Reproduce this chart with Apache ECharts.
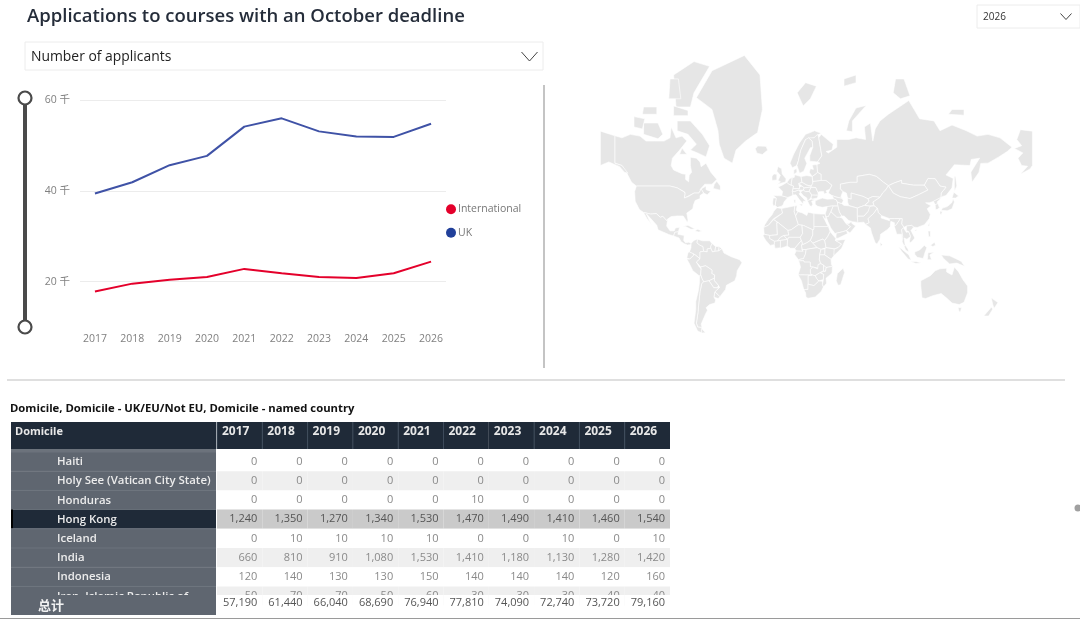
<!DOCTYPE html>
<html>
<head>
<meta charset="utf-8">
<style>
html, body { margin: 0; padding: 0; background: #fff; }
#main { width: 1080px; height: 620px; }
</style>
<script src="https://cdn.jsdelivr.net/npm/echarts@6/dist/echarts.min.js"></script>
</head>
<body>
<div id="main"></div>
<script>
var years = ['2017', '2018', '2019', '2020', '2021', '2022', '2023', '2024', '2025', '2026'];
var intlValues = [17800, 19550, 20400, 21000, 22800, 21850, 21000, 20800, 21850, 24400];
var ukValues = [39390, 41890, 45640, 47690, 54140, 55960, 53090, 51940, 51870, 54760];
var yTicks = [20000, 40000, 60000];

var rowNames = ['Haiti', 'Holy See (Vatican City State)', 'Honduras', 'Hong Kong', 'Iceland', 'India', 'Indonesia', 'Iran, Islamic Republic of'];
var haiti = [0, 0, 0, 0, 0, 0, 0, 0, 0, 0];
var holySee = [0, 0, 0, 0, 0, 0, 0, 0, 0, 0];
var honduras = [0, 0, 0, 0, 0, 10, 0, 0, 0, 0];
var hongKong = [1240, 1350, 1270, 1340, 1530, 1470, 1490, 1410, 1460, 1540];
var iceland = [0, 10, 10, 10, 10, 0, 0, 10, 0, 10];
var india = [660, 810, 910, 1080, 1530, 1410, 1180, 1130, 1280, 1420];
var indonesia = [120, 140, 130, 130, 150, 140, 140, 140, 120, 160];
var iran = [50, 70, 70, 50, 60, 30, 30, 30, 40, 40];
var totals = [57190, 61440, 66040, 68690, 76940, 77810, 74090, 72740, 73720, 79160];
var rowValues = [haiti, holySee, honduras, hongKong, iceland, india, indonesia, iran];
var selectedRow = 3;

// base map outlines, lon/lat. Map is cut at -153 so west Alaska sits past 180 on the right
var land = {
  Canada: [[-141,69.6],[-135,69],[-128,70],[-120,69.5],[-115,68],[-108,68],[-100,68],[-95,69],[-94,72],[-90,69],[-85,69.5],[-81,68],[-87,65],[-93,62],[-94,59],[-92,57],[-85,55.3],[-82,55],[-82,52.5],[-79.5,51.3],[-79,54.5],[-77,56],[-78,59],[-78,62.4],[-73,62],[-70,60.5],[-69,58.5],[-65,60],[-61,56],[-56,52.5],[-60,50],[-66,50],[-70,47],[-65,49],[-65,47],[-61,46],[-64,44],[-67,45],[-69,47.3],[-71,45],[-75,45],[-79,43.5],[-83,42],[-82.5,45.5],[-89,48],[-95,49],[-123,49],[-127,51],[-130,54.5],[-135,59],[-141,60]],
  USA: [[-123,49],[-95,49],[-89,48],[-84,46],[-82.5,45],[-83,42],[-79,43.2],[-75,45],[-71,45],[-69,47.3],[-67,45],[-70,43.5],[-70,41.7],[-74,40.5],[-75.5,37.5],[-76,35],[-81,32],[-80,27],[-80.5,25.2],[-82.5,28],[-84,30],[-89,30],[-94,29.5],[-97.3,27.5],[-97.2,26],[-101,29.7],[-103,29],[-106.5,31.7],[-111,31.3],[-117,32.5],[-120.5,34.5],[-124,40],[-124.5,46]],
  AlaskaEast: [[-141,69.6],[-141,60],[-135,59],[-130,55.5],[-133,56],[-137,58.5],[-146,60.5],[-153,59],[-153,70.9]],
  AlaskaWest: [[207,70.9],[197,71.3],[194,68.5],[198,66.5],[192,65.6],[199,64],[195,62],[198,59],[203,58.7],[197,55],[205,57.5],[207,59]],
  Baffin: [[-65,62.5],[-72,64],[-78,65],[-73,67],[-80,70],[-89,71],[-89,73.5],[-78,73.5],[-68,70],[-62,66.5]],
  Victoria: [[-117,70],[-105,68.7],[-101,70],[-105,73],[-117,73]],
  Ellesmere: [[-90,76.5],[-78,76.5],[-75,79],[-62,82.5],[-75,83],[-92,81.5]],
  Banks: [[-125,72],[-118,71.5],[-116,74],[-125,74.5]],
  Devon: [[-92,74.7],[-80,74.7],[-80,75.8],[-92,76.7]],
  Melville: [[-118,75],[-106,75],[-106,76.5],[-117,76.5]],
  Axel: [[-96,78],[-86,78],[-88,81],[-95,81]],
  Southampton: [[-87,63.5],[-81,63.5],[-85,65.7]],
  Newfoundland: [[-59,47.7],[-53,46.7],[-53,49],[-56,51.5],[-58,50]],
  Cuba: [[-85,22],[-80,23],[-74.2,20.2],[-77.5,19.9],[-82,22]],
  Hispaniola: [[-74.4,18.5],[-72,19.9],[-68.4,18.6],[-71,17.8]],
  Greenland: [[-73,78.2],[-60,82],[-33,83.6],[-20,81.5],[-18,76],[-22,70.5],[-32,68],[-40,65],[-43,60],[-50,62],[-54,67],[-55,71],[-60,76]],
  Iceland: [[-24,65.5],[-22,66.4],[-15,66.3],[-13.6,65],[-18,63.4],[-22.5,63.9]],
  Mexico: [[-117,32.5],[-111,31.3],[-106.5,31.7],[-103,29],[-101,29.7],[-97.2,26],[-97.8,22.5],[-95,18.7],[-91.5,18.6],[-90.5,21],[-87,21.5],[-88,18],[-91,17.5],[-92,14.6],[-96,15.8],[-105,19.5],[-106,23],[-112,29],[-114.7,31.5],[-112,26],[-110,23],[-114,27.8]],
  CentralAmerica: [[-92,14.6],[-91,17.5],[-88,18],[-88.5,16],[-83.2,15],[-83.6,11],[-82,9],[-79.5,9.5],[-77.4,8.7],[-78,7.5],[-80.5,7.3],[-83,8.2],[-85.8,10],[-87.5,13]],
  Colombia: [[-77.4,8.7],[-75,11],[-72,12.2],[-72.5,9],[-70,7],[-67.5,6],[-67,2],[-70,1.5],[-70,-4.2],[-74,-1],[-78.8,1.4],[-77.5,5]],
  Venezuela: [[-72,12],[-68,10.7],[-62,10.7],[-60,8.5],[-61,6],[-61,4.5],[-64,4],[-64,1.5],[-67,2],[-67.5,6],[-70,7],[-72.5,9]],
  Guyana: [[-60,8.5],[-57,6],[-57.5,2],[-59.7,1.5],[-61,4.5],[-61,6]],
  Suriname: [[-57,6],[-54,6],[-54.5,2.3],[-57.5,2]],
  FrenchGuiana: [[-54,6],[-51.7,4.2],[-54.5,2.3]],
  Ecuador: [[-80,1],[-78.8,1.4],[-75.5,0],[-75.5,-1.5],[-78.5,-4.5],[-81,-3.5]],
  Peru: [[-81,-4.5],[-78.5,-4.5],[-75.5,-1.5],[-75.2,-0.2],[-74,-1],[-70,-4.2],[-73,-7],[-70.6,-11],[-69,-12.5],[-69.5,-17.3],[-70.4,-18.3],[-76,-14],[-79,-8]],
  Brazil: [[-70,-4.2],[-70,1.5],[-67,2],[-64,1.5],[-64,4],[-61,4.5],[-59.7,1.5],[-57.5,2],[-54.5,2.3],[-51.7,4.2],[-50,0.5],[-44,-2.5],[-37,-5],[-35,-7.5],[-39,-14],[-39.5,-18],[-41,-22],[-48,-25.5],[-48.7,-28.5],[-53.4,-33.7],[-57.6,-30.2],[-53.7,-27],[-54.6,-25.6],[-58,-22],[-57.8,-17.5],[-60.2,-16.3],[-60,-13.5],[-65.3,-10],[-69.5,-11],[-73,-7]],
  Bolivia: [[-69.5,-11],[-65.3,-10],[-60,-13.5],[-60.2,-16.3],[-57.8,-17.5],[-58,-20],[-62.5,-22],[-67,-22.8],[-68.5,-20],[-69.5,-17.3],[-69,-12.5]],
  Paraguay: [[-58,-20],[-58,-22],[-54.6,-25.6],[-55.7,-27.4],[-58.6,-27.2],[-62.5,-22]],
  Uruguay: [[-57.6,-30.2],[-53.4,-33.7],[-54.9,-35],[-58.4,-34]],
  Argentina: [[-67,-22.8],[-62.5,-22],[-58.6,-27.2],[-55.7,-27.4],[-53.7,-27],[-57.6,-30.2],[-58.4,-34],[-57,-36],[-57.6,-38],[-62,-39],[-65,-41],[-63.7,-42.5],[-65.5,-45],[-69,-50.5],[-68.4,-52.3],[-72,-52],[-73,-50],[-71.7,-44],[-71,-38],[-70,-30],[-68.5,-24]],
  Chile: [[-70.4,-18.3],[-69.5,-17.3],[-68.5,-20],[-67,-22.8],[-68.5,-24],[-70,-30],[-71,-38],[-71.7,-44],[-73,-50],[-72,-52],[-68.4,-52.3],[-68.6,-54.9],[-72,-54],[-75,-50],[-73.5,-42],[-73.5,-37],[-71.5,-30],[-70.5,-24]],
  Fuego: [[-68.6,-52.8],[-65.5,-54.8],[-68.6,-55]],
  UK: [[-5.5,50],[1.3,51.2],[1.7,52.8],[-1.5,55.2],[-2,57.6],[-5,58.6],[-6,56.5],[-3,54.5],[-5,52],[-3,51.3]],
  Ireland: [[-10,52],[-6,52.2],[-6,55],[-8.5,55.2],[-10,54]],
  Spain: [[-9,43.5],[-1.8,43.4],[3.2,42.4],[0,39.5],[-0.5,38],[-2,36.8],[-5.5,36],[-7.4,37.2],[-7,39.5],[-6.5,42]],
  Portugal: [[-9,42],[-6.5,42],[-7,39.5],[-7.4,37.2],[-9,37],[-9.5,38.7]],
  France: [[-1.8,43.4],[3.2,42.4],[6,43.2],[7.5,43.8],[7,46],[8,49],[4,50],[2.5,51],[-1.5,49.5],[-4.8,48.5],[-1.2,46]],
  Benelux: [[2.5,51],[4,50],[6,49.5],[6.2,51],[7,53.4],[4.8,53]],
  Germany: [[6.2,51],[6,49.5],[8,49],[7.6,47.6],[13,47.5],[13,48.5],[12.2,50.3],[15,51],[14.2,53.9],[9,54.8],[8.5,53.5],[7,53.4]],
  Alps: [[7,46],[9,45.9],[12,46.7],[16,46.7],[17,48],[15,49],[13,48.5],[13,47.5],[7.6,47.6]],
  Italy: [[7.5,43.8],[10,44],[12.3,41.5],[16,38],[16,40],[18.4,40],[16,41.8],[12.5,44.5],[13.7,45.6],[12,46.7],[9,45.9],[7,46]],
  Sicily: [[12.5,38],[15.5,38.2],[15,36.7]],
  Sardinia: [[8.2,41],[9.7,41],[9.6,39],[8.5,39]],
  Poland: [[14.2,53.9],[15,51],[19,49.5],[22.7,49],[24,50.5],[23.5,54],[19,54.4]],
  Czechia: [[12.2,50.3],[15,49],[17,48],[22.5,48.4],[22.7,49],[19,49.5],[15,51]],
  Hungary: [[16,46.7],[17,48],[22.5,48.4],[21,46],[18,45.8]],
  Romania: [[21,46],[22.5,48.4],[26.5,48.2],[28.2,45.5],[28.6,43.7],[23,43.8],[22.5,44.5]],
  Bulgaria: [[23,43.8],[28.6,43.7],[27.7,42],[23,41.3],[22.5,42.5]],
  Balkans: [[13.7,45.6],[16,46.7],[18,45.8],[21,46],[22.5,44.5],[23,43.8],[22.5,42.5],[21,40.8],[19.4,40.3],[19,42],[16,43.5]],
  Greece: [[19.4,40.3],[21,40.8],[23,41.3],[26,41],[23,40],[24,38],[22.8,36.5],[21.5,37],[20,39.5]],
  Ukraine: [[24,50.5],[22.7,49],[22.5,48.4],[26.5,48.2],[28.2,45.5],[30.5,46],[33,46],[33.5,44.5],[36,45.2],[35,46.3],[38.2,47.2],[40,49.5],[35,52],[31,52],[24,51.5]],
  Belarus: [[24,51.5],[31,52],[31,55],[28,56],[26,55],[23.5,54]],
  Baltics: [[21,56],[23.5,54],[26,55],[28,56],[27.5,59.4],[23.5,59.2],[24.5,57.3],[22,57.6]],
  Norway: [[5,60],[7,58],[10.5,59],[12,61],[14,65],[18,68.5],[25,69],[29,70],[31,70.3],[25.5,71],[18,70],[13,67.5],[8,63.5]],
  Sweden: [[10.8,59],[13,55.5],[16.5,56.5],[19,59.8],[17.3,62],[22,65.8],[24,66],[23.5,68],[20.5,69],[18,68.5],[14,65],[12,61]],
  Finland: [[24,66],[21.5,63],[21.5,60.8],[28,60.5],[31.5,62.9],[29,69],[28,70],[25,69],[20.5,69],[23.5,68]],
  Denmark: [[8.2,55],[9,54.8],[10.8,56],[10.5,57.7],[8.2,57]],
  Svalbard: [[11,79],[16,76.7],[22,78],[27,80],[18,80.5]],
  FranzJosef: [[50,80],[60,80.5],[60,81.5],[50,81]],
  NovayaZemlya: [[52,71],[57,70.7],[57,73.5],[68.5,76.8],[60,76.3],[54,73.5]],
  Severnaya: [[91,79],[97,78],[105,78.5],[100,81],[93,81]],
  NewSiberia: [[137,75],[150,74.8],[150,76],[140,76]],
  Sakhalin: [[142,46],[144,49],[143,54],[142,54],[142,50]],
  Honshu: [[131,34],[136,33.6],[140,35],[142,39.5],[141,41.5],[139.8,39],[136,36.5],[132,35.5]],
  Hokkaido: [[140,42],[141.5,45.5],[145.5,43.3],[143,42]],
  Kyushu: [[130,33.5],[132,33],[131,31],[130,31.3]],
  Russia: [[31,70],[41,67],[40,65],[35,64.5],[37,64],[44,66],[44,68.5],[54,68.5],[60,69],[68,68.5],[67,72],[72,73],[74,68],[76,71.5],[80,73.5],[87,75],[104,77.7],[113,74],[125,73.5],[130,71],[140,72.5],[152,71],[161,69.5],[170,70],[180,69],[190,66],[186,64.5],[179,62.5],[170,60],[164,59.9],[162.5,56],[156.7,51],[155.7,56],[163,62],[156,61.5],[155,59],[142,59.3],[135,54.7],[141,53],[140,48],[135,43.5],[132,43],[130.7,42.3],[131,45],[135,48.4],[130,49],[126,52.8],[120,53],[117,49.5],[108,49.5],[98,50.5],[98,52],[92,50.7],[87,49.2],[83,51],[77,54],[71,55],[61,54],[61,51],[55,51],[47,50],[47,47.5],[49,46],[47.5,43],[48.5,41.8],[44,42.5],[40,43.5],[37,45],[38.2,47.2],[40,49.5],[35,52],[31,52],[31,55],[28,56],[27.5,59.4],[30,60],[28,60.5],[31.5,62.9],[29,69]],
  Kazakhstan: [[47,47.5],[47,50],[55,51],[61,51],[61,54],[71,55],[77,54],[83,51],[87,49.2],[85,47],[82.5,45.3],[80,42.5],[74,43],[70,41.5],[66,43],[61,44],[56,45],[56,41.3],[53,42],[52,45],[49,46]],
  Mongolia: [[87,49.2],[92,50.7],[98,52],[98,50.5],[108,49.5],[117,49.5],[120,46.8],[112,44],[105,41.7],[97,42.8],[91,45]],
  China: [[74,39.5],[80,42.5],[82.5,45.3],[85,47],[87,49.2],[91,45],[97,42.8],[105,41.7],[112,44],[120,46.8],[117,49.5],[120,53],[126,52.8],[130,49],[135,48.4],[131,45],[130.7,42.3],[125,40],[121,39],[118,39],[122.5,37],[119.3,35],[122,31],[121,28],[117,23.5],[111,21.3],[108,21.6],[106.5,23],[102,22.4],[100,21.5],[98,24],[98.5,28],[92,28],[88,28],[81,30.3],[78.5,32.5],[77.8,35.5],[75,37]],
  NorthKorea: [[124.5,40],[130.7,42.3],[129.7,41],[127.5,39.5],[128.3,38.5],[126,37.8]],
  SouthKorea: [[126,37.8],[128.3,38.5],[129.4,36],[128.5,34.8],[126.3,34.4]],
  Uzbekistan: [[53,42],[56,41.3],[56,45],[61,44],[66,43],[70,41.5],[71,40],[67,37.3],[61,35.5],[54,37.3],[53,39.5]],
  Kyrgyzstan: [[70,41.5],[74,43],[80,42.5],[74,39.5],[75,37],[71.5,36.8],[67.5,37.3],[71,40]],
  Afghanistan: [[61,35.5],[67,37.3],[71.5,36.8],[74,37],[70,33],[66.5,29.8],[61,29.8]],
  Pakistan: [[61,25],[66.5,25.4],[68,23.7],[71,25],[70,28],[75,32],[77.8,35.5],[75,37],[71.5,36.5],[70,33],[66.5,29.8],[61,29.8]],
  Iran: [[44.5,39.5],[48,38.5],[50,37.3],[54,37],[61,35.5],[61,29.8],[61.5,25.2],[57,25.8],[54,26.6],[50,30],[48,30],[46,33],[44.8,37]],
  Iraq: [[39,33],[41,37],[44.8,37],[46,33],[48,30],[46.5,29],[44,29]],
  Turkey: [[26,40.3],[26,38],[28,36.7],[32,36],[36,36.5],[41,37],[44.8,37],[44.5,39.5],[43.5,41],[41.5,41.5],[36,41.3],[32,42],[29,41.2]],
  Caucasus: [[40,43.5],[44,42.5],[48.5,41.8],[49.5,40.3],[48,38.5],[44.5,39.5],[43.5,41],[41.5,41.5]],
  Levant: [[36,36.5],[41,37],[39,33],[37,29.5],[35,29.5],[34.3,31.4],[35.8,35.2]],
  Saudi: [[35,29.5],[37,29.5],[39,33],[44,29],[46.5,29],[48.4,28.5],[50,26.5],[51.5,24.5],[55.5,22],[52,19],[49,18],[43.5,16.8],[42.5,16.5],[39,21],[36.5,26]],
  Oman: [[51.5,24.5],[54,24.2],[56.3,26],[56.5,24.5],[59.7,22.5],[55,17],[52,19],[55.5,22]],
  Yemen: [[43.5,16.8],[49,18],[52,19],[53,16.5],[45,12.8],[43.3,12.8]],
  India: [[68,23.7],[72,21],[73,17],[76,9],[77.5,8],[80,12],[80.5,16],[86.5,20],[88.5,22],[89,26],[92,25],[92,22],[94,24],[97,28],[92,28],[88,28],[88,26.5],[81,28.5],[81,30.3],[78.5,32.5],[77.8,35.5],[75,32],[70,28],[71,25]],
  SriLanka: [[80,9.5],[82,7.5],[80.5,6]],
  Myanmar: [[92,22],[94,16],[98,16],[98.5,10],[99,14],[98,19.5],[100,21.5],[98,24],[98.5,28],[97,28],[94,24]],
  Thailand: [[98,19.5],[99,14],[98.5,10],[100,6.5],[101,7],[100,13],[102.5,12],[105.5,14.3],[104,18],[102,17.5],[100,20.3],[100,21.5]],
  Vietnam: [[102,22.4],[106.5,23],[108,21.6],[105.8,19],[109,13],[107,10.5],[105,8.8],[104.5,10.5],[105.5,14.3],[104,18],[102,19]],
  Malaya: [[100,6.5],[101,7],[103.3,4],[104,1.4],[101.3,3]],
  Sumatra: [[95.5,5.5],[98,4],[104,-1],[106,-5.5],[103.5,-4.5],[98,2]],
  Java: [[105.5,-6.5],[110,-6.5],[114.5,-7.8],[110,-8.2]],
  Borneo: [[109,1.5],[113,3],[117,7],[119,5],[117.5,1],[116,-4],[111,-3],[109,-0.5]],
  Sulawesi: [[119.5,-5],[120,0.8],[125,1.3],[121.5,-1],[123,-5]],
  NewGuinea: [[131,-1],[138,-1.8],[145,-5],[147.8,-6.5],[150.5,-10.5],[144,-7.8],[138,-8.5],[133,-4]],
  Luzon: [[120,18.5],[122,18.5],[122,14],[120.5,14]],
  Mindanao: [[122,7],[125.5,9.5],[126.3,7],[124,6]],
  Taiwan: [[120,23],[121.5,25.3],[121,22]],
  Hainan: [[108.7,19],[110.7,20],[110,18.4]],
  NZNorth: [[172.7,-34.5],[178.3,-37.7],[175,-41.5],[174,-39]],
  NZSouth: [[172.7,-40.7],[174,-41.8],[170.5,-46],[166.5,-46]],
  Tasmania: [[145,-40.8],[148,-41],[147,-43.5],[146,-43.5]],
  Australia: [[114,-22],[122,-18],[126,-14],[130,-12.5],[135.5,-12],[135.5,-15],[140,-17.5],[142,-11],[145.5,-15],[149,-21],[153,-26],[153,-31],[150,-37.5],[146,-39],[140,-38],[136,-35],[131,-31.5],[124,-33],[118,-35],[115,-34.5],[114,-26]],
  Morocco: [[-5.9,35.8],[-2,35.2],[-1.2,32],[-8.7,28],[-8.7,27.3],[-13,23],[-17,21.4],[-16,23.5],[-13,27.7],[-9.8,31],[-8.5,33.3]],
  Algeria: [[-2,35.2],[9,37],[8.5,33],[9.7,30],[12,23.5],[6,19.5],[3.3,19],[-4.8,25],[-8.7,27.3],[-8.7,28],[-1.2,32]],
  Tunisia: [[9,37],[11,37],[10.2,34],[11.5,33],[9.7,30],[8.5,33]],
  Libya: [[11.5,33],[15,32.3],[19,30.3],[20,32.7],[25,31.7],[25,20],[24,19.5],[16,23],[12,23.5],[9.7,30]],
  Egypt: [[25,31.7],[31,31.3],[34.3,31.3],[35,28],[33.5,28],[32.5,30],[35.7,23.9],[37,22],[25,22]],
  Mauritania: [[-17,21.4],[-13,23],[-8.7,27.3],[-4.8,25],[-6,25],[-5.5,15.5],[-12,15],[-16.5,16]],
  Mali: [[-4.8,25],[3.3,19],[4,15.3],[0,15],[-3,13.5],[-5.5,10.5],[-8,10.3],[-12,12.5],[-12,15],[-5.5,15.5],[-6,25]],
  Senegal: [[-16.5,16],[-12,15],[-12,12.5],[-8,10.3],[-8,7.6],[-11.5,6.9],[-15,10.8],[-17.5,14.7]],
  Niger: [[3.3,19],[6,19.5],[12,23.5],[15,23],[15.5,16.5],[13.5,13.5],[4,13.5],[3,11.8],[1,13.5],[0,15],[4,15.3]],
  Burkina: [[-5.5,10.5],[-3,13.5],[0,15],[1,13.5],[3,11.8],[-3,11]],
  Ivory: [[-8,10.3],[-5.5,10.5],[-3,11],[-3,5],[-7.5,4.4],[-8,7.6]],
  Ghana: [[-3,11],[3,11.8],[2.7,6.3],[-2,4.8],[-3,5]],
  Nigeria: [[2.7,6.3],[3,11.8],[4,13.5],[13.5,13.5],[14.5,11],[9,4.5],[5.5,4.5]],
  Chad: [[15.5,16.5],[15,23],[16,23],[24,19.5],[24,15.5],[22,11],[19,9],[15.5,7.5],[14.5,11],[13.5,13.5]],
  Sudan: [[24,19.5],[25,20],[25,22],[37,22],[38.5,18],[36.5,14.3],[34,11],[32,12],[27,10],[24,8.7],[22,11],[24,15.5]],
  SouthSudan: [[24,8.7],[27,10],[32,12],[34,11],[35,5],[30.8,3.6],[27.5,5]],
  Ethiopia: [[38.5,18],[43.2,12.5],[42.8,11],[48,8],[45,5],[41.8,4],[35,5],[34,11],[36.5,14.3]],
  Somalia: [[42.8,11],[51.2,11.8],[48,4.5],[41.5,-1.7],[41,3.5],[45,5],[48,8]],
  Kenya: [[35,5],[41.8,4],[41,3.5],[41.5,-1.7],[39.2,-4.7],[33.9,-1],[34,4]],
  CAR: [[14.5,7.5],[15.5,7.5],[19,9],[22,11],[24,8.7],[27.5,5],[22,4.2],[18.5,3.5],[15,3.5]],
  Cameroon: [[9,4.5],[14.5,11],[15.5,7.5],[14.5,7.5],[15,3.5],[16,2],[10,2.2]],
  Gabon: [[10,2.2],[16,2],[15,3.5],[18.5,3.5],[17.8,-0.5],[16.3,-4],[12,-5],[8.8,-0.7]],
  DRC: [[12,-5],[16.3,-4],[17.8,-0.5],[18.5,3.5],[22,4.2],[27.5,5],[30.8,3.6],[29.7,-1],[29.5,-5],[30.7,-8.3],[28.5,-9],[28.7,-12],[28,-12.5],[24,-11],[22,-11],[21.8,-7],[16.8,-7],[16.3,-5.8],[12.3,-6]],
  Uganda: [[30.8,3.6],[34,4],[33.9,-1],[29.7,-1]],
  Tanzania: [[29.7,-1],[33.9,-1],[39.2,-4.7],[39.5,-9],[40.4,-10.5],[35,-11.5],[33,-9.5],[30.7,-8.3],[29.5,-5]],
  Angola: [[12.3,-6],[16.3,-5.8],[16.8,-7],[21.8,-7],[22,-11],[24,-11],[22,-13],[22,-16],[23.5,-17.5],[14,-17.4],[11.8,-17.3],[13.8,-11]],
  Zambia: [[22,-13],[24,-11],[28,-12.5],[28.7,-12],[28.5,-9],[30.7,-8.3],[33,-9.5],[33,-14],[30,-15.6],[26,-18],[23.5,-17.5],[22,-16]],
  Mozambique: [[40.4,-10.5],[35,-11.5],[34.5,-14.5],[33,-14.5],[30.3,-15.7],[33,-17],[32.8,-21],[32,-25],[32.8,-26.8],[35.5,-24],[35,-20],[40,-16]],
  Malawi: [[33,-9.5],[35,-11.5],[34.5,-14.5],[33,-14]],
  Zimbabwe: [[26,-18],[30,-15.6],[33,-17],[32.8,-21],[29,-22.2],[27,-20]],
  Botswana: [[20,-18],[23.5,-17.5],[26,-18],[27,-20],[29,-22.2],[25,-25.7],[20,-24.7]],
  Namibia: [[11.8,-17.3],[14,-17.4],[23.5,-17.5],[20,-18],[20,-28.5],[16.5,-28.6],[14.5,-22]],
  SouthAfrica: [[16.5,-28.6],[20,-28.5],[20,-24.7],[25,-25.7],[29,-22.2],[32,-22.3],[32,-25],[32.8,-26.8],[31,-30],[26,-34],[20,-34.8],[18.3,-34],[18,-31]],
  Madagascar: [[49.3,-12],[50.5,-15.5],[47.2,-25],[45,-25.5],[43.5,-22],[44.5,-16.2]]
};

var worldFeatures = [];
Object.keys(land).forEach(function (name) {
  worldFeatures.push({
    type: 'Feature',
    properties: { name: name },
    geometry: { type: 'Polygon', coordinates: [land[name].concat([land[name][0]])] }
  });
});
echarts.registerMap('world', { type: 'FeatureCollection', features: worldFeatures });

var uiFont = '"Open Sans", "Noto Sans CJK SC", sans-serif';
var myChart = echarts.init(document.getElementById('main'));

function fmt(v) {
  return v.toLocaleString('en-US');
}

// table: two columns of grids (row header, years) by three bands (head, body, total)
var tableGrids = [];
var tableX = [];
var tableY = [];
var tableSeries = [];

var colBands = [
  { left: 11, width: 205, cats: ['Domicile'] },
  { left: 217, width: 453, cats: years }
];
var rowBands = [
  { top: 422, height: 27, cats: ['head'] },
  { top: 452, height: 153.6, cats: rowNames },
  { top: 595, height: 20, cats: ['total'] }
];

function tableCell(cell) {
  return function (params, api) {
    var c = cell[params.dataIndex];
    var p = api.coord([api.value(0), api.value(1)]);
    var s = api.size([1, 1]);
    var x = p[0] - s[0] / 2;
    var y = p[1] - s[1] / 2;
    var kids = [{
      type: 'rect',
      shape: { x: x, y: y, width: s[0], height: s[1] },
      style: { fill: c.bg }
    }];
    if (c.line) {
      kids.push({
        type: 'line',
        shape: { x1: x, y1: y, x2: x + s[0], y2: y },
        style: { stroke: c.line, lineWidth: 1 }
      });
    }
    if (c.sep) {
      kids.push({
        type: 'line',
        shape: { x1: x, y1: y, x2: x, y2: y + s[1] },
        style: { stroke: '#3d4a5a', lineWidth: 1 }
      });
    }
    if (c.mark) {
      kids.push({
        type: 'rect',
        shape: { x: x, y: y, width: 2, height: s[1] },
        style: { fill: '#000' }
      });
    }
    kids.push({
      type: 'text',
      style: {
        x: c.align === 'right' ? x + s[0] - 5 : x + c.pad,
        y: y + (c.dy === undefined ? s[1] / 2 : c.dy),
        text: c.text,
        align: c.align,
        verticalAlign: 'middle',
        fill: c.color,
        fontFamily: uiFont,
        fontSize: c.size,
        fontWeight: c.weight
      }
    });
    return { type: 'group', children: kids };
  };
}

rowBands.forEach(function (rb, r) {
  colBands.forEach(function (cb, c) {
    var idx = tableGrids.length + 1;
    tableGrids.push({ left: cb.left, top: rb.top, width: cb.width, height: rb.height });
    tableX.push({ type: 'category', gridIndex: idx, data: cb.cats, show: false });
    tableY.push({ type: 'category', gridIndex: idx, data: rb.cats, show: false, inverse: true });

    var cells = [];
    var points = [];
    rb.cats.forEach(function (rowName, ri) {
      cb.cats.forEach(function (colName, ci) {
        points.push([ci, ri]);
        if (r === 0) {
          cells.push({
            text: colName, bg: '#1f2a38', color: '#e8e8e8', size: c === 0 ? 11 : 12, weight: 700, align: 'left',
            pad: c === 0 ? 4 : 5, dy: 10, sep: c === 1 && colName !== '2023'
          });
        } else if (r === 1 && c === 0) {
          cells.push({
            text: rowName, bg: ri === selectedRow ? '#1f2a38' : '#5f6670', line: ri === selectedRow ? null : '#6c737c',
            color: '#ececec', size: 11.4, weight: 600, align: 'left', pad: 46, dy: 10, mark: ri === selectedRow
          });
        } else if (r === 1) {
          var selected = ri === selectedRow;
          cells.push({
            text: fmt(rowValues[ri][ci]), bg: selected ? '#cacaca' : (ri % 2 ? '#efefef' : '#ffffff'),
            color: selected ? '#555555' : '#8a8a8a', size: 11, weight: 400, align: 'right'
          });
        } else if (c === 0) {
          cells.push({ text: '总计', bg: '#5f6670', color: '#f2f2f2', size: 13, weight: 700, align: 'left', pad: 27, dy: 11 });
        } else {
          cells.push({ text: fmt(totals[ci]), bg: '#ffffff', color: '#555555', size: 11, weight: 400, align: 'right', dy: 8 });
        }
      });
    });

    tableSeries.push({
      type: 'custom',
      coordinateSystem: 'cartesian2d',
      xAxisIndex: idx,
      yAxisIndex: idx,
      silent: true,
      z: r === 2 ? 6 : 4,
      renderItem: tableCell(cells),
      data: points
    });
  });
});

function chevron(cx, cy, w, h) {
  return {
    type: 'polyline',
    shape: { points: [[cx - w, cy - h], [cx, cy + h], [cx + w, cy - h]] },
    style: { stroke: '#444', fill: null, lineWidth: 1 }
  };
}

function yearPairs(values) {
  return values.map(function (v, i) { return [Number(years[i]), v]; });
}

var R = 1.2 * 180 / Math.PI;
var option = {
  animation: false,
  backgroundColor: '#fff',
  textStyle: { fontFamily: uiFont },
  legend: {
    data: ['International', { name: 'UK', itemStyle: { color: '#21409a' } }],
    orient: 'vertical',
    left: 441,
    top: 199,
    icon: 'circle',
    itemWidth: 10,
    itemHeight: 10,
    itemGap: 13,
    textStyle: { color: '#777', fontSize: 10.5, padding: [0, 0, 0, -3], fontFamily: uiFont }
  },
  grid: [{ left: 80, top: 100, width: 366, height: 227 }].concat(tableGrids),
  xAxis: [{
    type: 'value',
    gridIndex: 0,
    min: 2016.6,
    max: 2026.4,
    splitLine: { show: false },
    axisLine: { show: false },
    axisTick: { show: false, customValues: years.map(Number) },
    axisLabel: {
      customValues: years.map(Number),
      color: '#808080',
      fontSize: 10.5,
      margin: 7,
      formatter: function (v) { return String(v); }
    }
  }].concat(tableX),
  yAxis: [{
    type: 'value',
    gridIndex: 0,
    min: 10000,
    max: 60000,
    axisLine: { show: false },
    axisTick: { show: false, customValues: yTicks },
    splitLine: { lineStyle: { color: '#ececec', width: 1 } },
    axisLabel: {
      customValues: yTicks,
      color: '#808080',
      fontSize: 10.5,
      margin: 10,
      formatter: function (v) { return (v / 1000) + ' 千'; }
    }
  }].concat(tableY),
  geo: {
    map: 'world',
    silent: true,
    left: 600.4,
    top: 55.4,
    width: 432,
    height: 277.65,
    projection: {
      project: function (p) {
        return [p[0] * 1.2, -R * Math.log(Math.tan(Math.PI / 4 + p[1] * Math.PI / 360))];
      },
      unproject: function (p) {
        return [p[0] / 1.2, (2 * Math.atan(Math.exp(-p[1] / R)) - Math.PI / 2) * 180 / Math.PI];
      }
    },
    itemStyle: { areaColor: '#e6e6e6', borderColor: '#fff', borderWidth: 0.6 }
  },
  series: [
    {
      name: 'International',
      type: 'line',
      xAxisIndex: 0,
      yAxisIndex: 0,
      data: yearPairs(intlValues),
      color: '#e4002b',
      symbol: 'none',
      lineStyle: { width: 2 }
    },
    {
      name: 'UK',
      type: 'line',
      xAxisIndex: 0,
      yAxisIndex: 0,
      data: yearPairs(ukValues),
      color: '#3f52a6',
      symbol: 'none',
      lineStyle: { width: 2 }
    }
  ].concat(tableSeries),
  graphic: [
    { type: 'text', left: 27, top: 7, style: { text: 'Applications to courses with an October deadline', fill: '#252d3a', fontFamily: uiFont, fontSize: 18.5, fontWeight: 600 } },
    { type: 'rect', shape: { x: 25, y: 42, width: 518, height: 28 }, style: { fill: '#fff', stroke: '#ececec', lineWidth: 1 } },
    { type: 'text', left: 31, top: 50, style: { text: 'Number of applicants', fill: '#222', fontFamily: uiFont, fontSize: 13.9 } },
    chevron(529.5, 56.5, 8, 4.5),
    { type: 'rect', shape: { x: 977, y: 5, width: 103, height: 23 }, style: { fill: '#fff', stroke: '#ececec', lineWidth: 1 } },
    { type: 'text', left: 983, top: 12, style: { text: '2026', fill: '#333', fontFamily: uiFont, fontSize: 10 } },
    chevron(1066, 16.5, 5.5, 3),
    { type: 'rect', shape: { x: 23, y: 98, width: 4, height: 229 }, style: { fill: '#4a4a4a' } },
    { type: 'circle', shape: { cx: 25, cy: 98, r: 6.5 }, style: { fill: '#fff', stroke: '#4a4a4a', lineWidth: 2.2 } },
    { type: 'circle', shape: { cx: 25, cy: 327, r: 6.5 }, style: { fill: '#fff', stroke: '#4a4a4a', lineWidth: 2.2 } },
    { type: 'line', shape: { x1: 544, y1: 85, x2: 544, y2: 368 }, style: { stroke: '#c4c4c4', lineWidth: 2 } },
    { type: 'line', shape: { x1: 7, y1: 380, x2: 1065, y2: 380 }, style: { stroke: '#d4d4d4', lineWidth: 1.5 } },
    { type: 'text', left: 10, top: 403, style: { text: 'Domicile, Domicile - UK/EU/Not EU, Domicile - named country', fill: '#111', fontFamily: uiFont, fontSize: 11.3, fontWeight: 700 } },
    { type: 'rect', shape: { x: 11, y: 449, width: 205, height: 3 }, style: { fill: '#6c737c' } },
    { type: 'line', shape: { x1: 0, y1: 618.5, x2: 1080, y2: 618.5 }, style: { stroke: '#9a9a9a', lineWidth: 1 } },
    { type: 'circle', shape: { cx: 1078, cy: 508, r: 3.5 }, style: { fill: '#a0a0a0' } }
  ]
};

myChart.setOption(option);
</script>
</body>
</html>
